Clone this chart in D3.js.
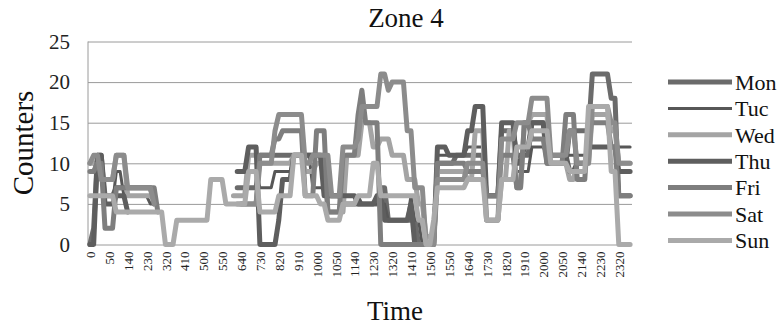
<!DOCTYPE html>
<html>
<head>
<meta charset="utf-8">
<script src="https://cdn.jsdelivr.net/npm/d3@7"></script>
<style>
  body { margin: 0; background: #fff; }
  svg { display: block; font-family: "Liberation Serif", "Times New Roman", serif; }
</style>
</head>
<body>
<script>
const N = null;

// 10 minute slots, HHMM without leading zeros
const times = [
  "0","10","20","30","40","50", "100","110","120","130","140","150",
  "200","210","220","230","240","250", "300","310","320","330","340","350",
  "400","410","420","430","440","450", "500","510","520","530","540","550",
  "600","610","620","630","640","650", "700","710","720","730","740","750",
  "800","810","820","830","840","850", "900","910","920","930","940","950",
  "1000","1010","1020","1030","1040","1050", "1100","1110","1120","1130","1140","1150",
  "1200","1210","1220","1230","1240","1250", "1300","1310","1320","1330","1340","1350",
  "1400","1410","1420","1430","1440","1450", "1500","1510","1520","1530","1540","1550",
  "1600","1610","1620","1630","1640","1650", "1700","1710","1720","1730","1740","1750",
  "1800","1810","1820","1830","1840","1850", "1900","1910","1920","1930","1940","1950",
  "2000","2010","2020","2030","2040","2050", "2100","2110","2120","2130","2140","2150",
  "2200","2210","2220","2230","2240","2250", "2300","2310","2320","2330","2340","2350"
];

const tickLabels = ["0","50","140","230","320","410","500","550","640","730","820","910",
  "1000","1050","1140","1230","1320","1410","1500","1550","1640","1730","1820","1910",
  "2000","2050","2140","2230","2320"];

const yTicks = [0, 5, 10, 15, 20, 25];

const days = ["Mon", "Tuc", "Wed", "Thu", "Fri", "Sat", "Sun"];

const mon = [
  0,2,11,11,6,6,6,7,7,7,7,7,7,7,7,7,7,5,N,N,N,N,N,N,
  N,N,N,N,N,N,N,N,N,N,N,N,N,N,N,7,7,7,7,7,7,11,11,11,
  11,11,11,11,11,11,11,11,11,11,11,11,11,11,11,6,6,6,6,5,5,5,5,5,
  5,5,5,5,5,7,7,3,3,3,3,3,3,3,3,0,0,0,0,0,10,10,10,10,
  10,11,11,11,11,11,11,11,11,6,6,6,6,14,14,14,14,11,11,11,11,15,15,15,
  15,10,10,10,10,10,10,14,14,14,14,14,14,21,21,21,21,21,18,18,6,6,6,6
];
const tuc = [
  10,10,9,9,5,5,5,9,9,6,6,6,6,6,6,6,5,5,N,N,N,N,N,N,
  N,N,N,N,N,N,N,N,N,N,N,N,N,N,N,N,N,9,9,9,9,7,7,7,
  7,9,9,9,9,9,11,11,11,11,11,7,7,7,7,6,6,6,6,6,6,6,6,6,
  5,5,5,5,5,5,5,3,3,3,3,3,3,6,3,3,0,0,0,0,11,11,11,11,
  11,11,11,11,12,12,12,12,12,6,6,6,6,11,11,11,11,9,9,9,9,12,12,12,
  12,11,11,11,11,11,11,11,11,11,11,11,12,12,12,12,12,12,12,12,12,12,12,12
];
const wed = [
  10,10,10,8,8,8,8,11,11,11,6,6,6,6,6,6,6,6,N,N,N,N,N,N,
  N,N,N,N,N,N,N,N,N,N,N,N,N,N,6,6,6,6,11,11,11,10,10,10,
  10,10,10,10,10,10,11,11,11,9,9,9,10,10,10,4,4,4,4,4,11,11,11,11,
  15,15,15,12,12,13,13,13,11,11,11,11,8,8,8,5,5,1,1,1,9,9,9,9,
  9,9,9,9,8,8,14,14,14,3,3,3,3,8,8,14,14,7,7,15,15,16,16,16,
  16,16,10,10,10,10,10,8,8,10,10,10,10,16,16,16,16,16,14,14,10,10,10,10
];
const thu = [
  0,0,11,11,5,5,5,6,6,6,4,N,N,N,N,N,N,N,N,N,N,N,N,N,
  N,N,N,N,N,N,N,N,N,N,N,N,N,N,N,9,9,9,12,12,12,0,0,0,
  0,0,3,8,8,8,11,11,11,11,11,11,11,11,6,6,6,6,6,6,6,6,6,5,
  5,5,5,5,6,6,3,3,3,3,3,3,3,5,0,0,0,0,0,0,12,12,12,11,
  11,11,11,11,14,14,17,17,17,6,6,6,6,15,15,15,15,10,10,12,12,15,15,15,
  15,11,11,11,11,11,11,9,9,10,10,10,12,12,12,12,12,12,12,12,9,9,9,9
];
const fri = [
  9,9,10,10,2,2,2,7,7,7,7,7,7,7,7,7,7,7,4,N,N,N,N,N,
  N,N,N,N,N,N,N,N,N,N,N,N,N,N,N,N,5,5,5,5,5,11,11,11,
  11,13,13,14,14,14,14,14,14,6,6,6,14,14,14,4,4,4,4,11,11,11,11,16,
  19,15,15,15,15,0,0,0,0,0,0,0,0,0,0,0,0,0,0,0,10,10,10,10,
  10,10,10,10,9,9,9,9,9,6,6,6,6,11,11,11,11,7,7,15,15,13,13,13,
  13,10,10,10,10,10,16,16,16,8,8,8,15,15,15,15,15,15,12,12,6,6,6,6
];
const sat = [
  10,11,11,8,8,8,8,11,11,11,7,7,7,7,7,7,7,5,N,N,N,N,N,N,
  N,N,N,N,N,N,N,N,N,N,N,N,N,N,N,5,5,5,5,5,5,10,10,10,
  10,14,16,16,16,16,16,16,16,10,10,11,11,11,11,11,6,6,6,12,12,12,12,13,
  17,17,17,17,17,21,21,19,20,20,20,20,14,14,7,7,7,0,0,0,8,8,8,8,
  8,8,8,8,10,10,10,10,10,3,3,3,3,13,13,13,13,15,15,15,15,18,18,18,
  18,18,11,11,11,11,11,14,14,10,10,10,10,17,17,17,17,17,15,15,10,10,10,10
];
const sun = [
  6,6,6,6,6,6,6,4,4,4,4,4,4,4,4,4,4,4,4,4,0,0,0,3,
  3,3,3,3,3,3,3,3,8,8,8,8,5,5,5,5,5,5,9,9,9,4,4,4,
  4,4,6,6,6,6,11,11,11,6,6,6,6,5,5,3,3,3,3,5,5,5,5,6,
  6,6,6,10,10,6,6,6,6,6,6,6,6,6,6,3,3,0,0,3,7,7,7,7,
  7,7,7,7,8,8,8,8,8,3,3,3,3,8,8,8,8,12,12,12,12,14,14,14,
  14,14,10,10,10,10,10,9,9,9,9,9,17,17,17,17,17,17,9,9,0,0,0,0
];

const series = [mon, tuc, wed, thu, fri, sat, sun];
const colors = ["#6b6b6b", "#575757", "#a4a4a4", "#5e5e5e", "#7e7e7e", "#8c8c8c", "#aaaaaa"];
const widths = [5, 3, 5, 5, 5, 5, 5];

var w = 780, h = 328;
var plotL = 88, plotR = 632, plotT = 41.5, plotB = 244.5;

var svg = d3.select("body").append("svg").attr("width", w).attr("height", h);

var xScale = d3.scalePoint().domain(times).range([plotL, plotR]).padding(0.5);
var yScale = d3.scaleLinear().domain([0, 25]).range([plotB, plotT]);

// gridlines + y labels
var yAxis = svg.append("g")
  .attr("transform", "translate(" + plotL + ",0)")
  .call(d3.axisLeft(yScale).tickValues(yTicks).tickSize(-(plotR - plotL)).tickPadding(18));
yAxis.select(".domain").remove();
yAxis.selectAll("line").attr("stroke", "#9a9a9a");
yAxis.selectAll("text").attr("font-size", 21).attr("fill", "#222")
  .attr("font-family", "Liberation Serif, serif");

// left axis line
svg.append("line")
  .attr("x1", plotL).attr("x2", plotL)
  .attr("y1", yScale(25)).attr("y2", yScale(0))
  .attr("stroke", "#9a9a9a");

// x labels, rotated
var xAxis = svg.append("g")
  .attr("transform", "translate(0," + plotB + ")")
  .call(d3.axisBottom(xScale).tickValues(tickLabels).tickSize(0));
xAxis.select(".domain").remove();
xAxis.selectAll("text")
  .attr("transform", "rotate(-90)")
  .attr("x", -7).attr("y", 0).attr("dy", "0.35em")
  .style("text-anchor", "end")
  .attr("font-size", 13).attr("fill", "#222")
  .attr("font-family", "Liberation Serif, serif");

// lines
var line = d3.line()
  .defined(d => d != null)
  .x((d, i) => xScale(times[i]))
  .y(d => yScale(d));

series.forEach(function (s, k) {
  svg.append("path")
    .attr("d", line(s))
    .attr("fill", "none")
    .attr("stroke", colors[k])
    .attr("stroke-width", widths[k])
    .attr("stroke-linejoin", "round")
    .attr("stroke-linecap", "round");
});

// legend
var legend = svg.append("g");
days.forEach(function (d, k) {
  var ly = 82 + k * 26.4;
  legend.append("line")
    .attr("x1", 668).attr("x2", 732).attr("y1", ly).attr("y2", ly)
    .attr("stroke", colors[k]).attr("stroke-width", widths[k]);
  legend.append("text")
    .attr("x", 735).attr("y", ly).attr("dy", "0.35em")
    .attr("font-size", 22).attr("fill", "#111")
    .text(d);
});

// titles
svg.append("text")
  .attr("x", 406).attr("y", 27)
  .attr("text-anchor", "middle").attr("font-size", 27).attr("fill", "#111")
  .text("Zone 4");

svg.append("text")
  .attr("transform", "translate(33,143) rotate(-90)")
  .attr("text-anchor", "middle").attr("font-size", 29).attr("fill", "#111")
  .text("Counters");

svg.append("text")
  .attr("x", 395).attr("y", 320)
  .attr("text-anchor", "middle").attr("font-size", 27).attr("fill", "#111")
  .text("Time");
</script>
</body>
</html>
